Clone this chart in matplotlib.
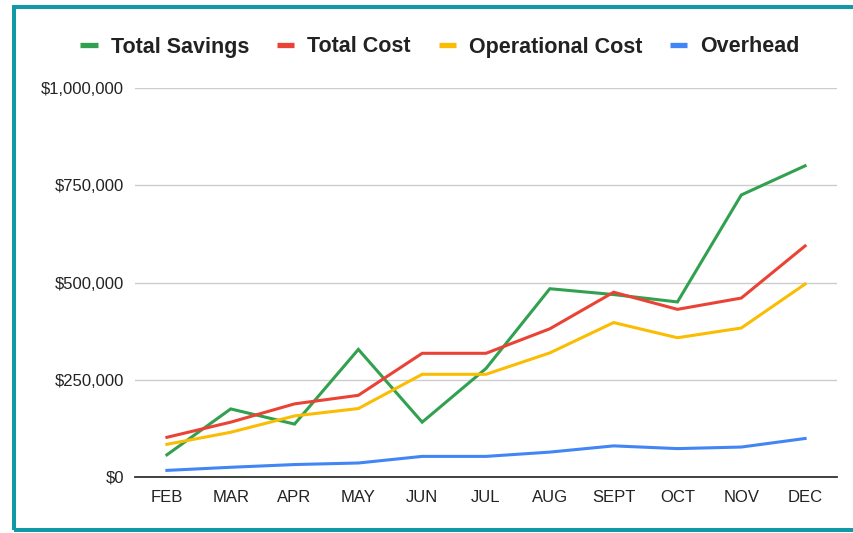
import matplotlib
matplotlib.use("Agg")
import matplotlib.pyplot as plt
from matplotlib.patches import Rectangle
from matplotlib.lines import Line2D
from matplotlib.ticker import FuncFormatter

months = ["FEB", "MAR", "APR", "MAY", "JUN", "JUL", "AUG", "SEPT", "OCT", "NOV", "DEC"]
total_savings = [57000, 175000, 136000, 328000, 141000, 279000, 484000, 469000, 450000, 725000, 800000]
total_cost = [102000, 141000, 188000, 210000, 318000, 318000, 381000, 475000, 431000, 460000, 594000]
operational_cost = [84000, 115000, 157000, 176000, 264000, 264000, 319000, 397000, 358000, 383000, 496000]
overhead = [17000, 25000, 32000, 36000, 53000, 53000, 64000, 80000, 73000, 77000, 99000]

series = [
    ("Total Savings", total_savings, "#31a150"),
    ("Total Cost", total_cost, "#ea4335"),
    ("Operational Cost", operational_cost, "#fbbc04"),
    ("Overhead", overhead, "#4285f4"),
]
yticks = [0, 250000, 500000, 750000, 1000000]

plt.rcParams["font.family"] = ["Liberation Sans", "DejaVu Sans"]

fig = plt.figure(figsize=(8.54, 5.33), dpi=100)
ax = fig.add_axes([135 / 854, 1 - 477 / 533, (837 - 135) / 854, (477 - 88) / 533])

x = list(range(len(months)))
for name, vals, color in series:
    ax.plot(x, vals, color=color, lw=2.2, label=name, solid_joinstyle="miter")

ax.set_xlim(-0.5, len(months) - 0.5)
ax.set_ylim(0, 1000000)
ax.set_yticks(yticks)
ax.yaxis.set_major_formatter(FuncFormatter(lambda v, p: f"${int(v):,}"))
ax.set_xticks(x)
ax.set_xticklabels(months)
ax.grid(axis="y", color="#cccccc", lw=1.0)
ax.set_axisbelow(True)
for s in ["top", "right", "left"]:
    ax.spines[s].set_visible(False)
ax.spines["bottom"].set_color("#333333")
ax.spines["bottom"].set_linewidth(1.3)
ax.spines["bottom"].set_zorder(5)
ax.tick_params(axis="both", length=0, labelsize=12, colors="#222222")
ax.tick_params(axis="y", pad=8)
ax.tick_params(axis="x", pad=9)

leg_handles = [Line2D([0], [0], color=c, lw=3.8, solid_capstyle="butt") for _, _, c in series]
leg = fig.legend(leg_handles, [n for n, _, _ in series], loc="center", bbox_to_anchor=(440 / 854, 1 - 47 / 533),
                 ncol=4, frameon=False, handlelength=0.8, handletextpad=0.6, columnspacing=1.3,
                 prop={"size": 15.5, "weight": "bold"})
for t in leg.get_texts():
    t.set_color("#222222")

# teal frame
border = "#1199a6"
fig.add_artist(Rectangle((14 / 854, 1 - 530 / 533), 1.2, (530 - 6.5) / 533, transform=fig.transFigure,
                         fill=False, edgecolor=border, lw=2.9, clip_on=False))

fig.savefig("out.png", dpi=100)
